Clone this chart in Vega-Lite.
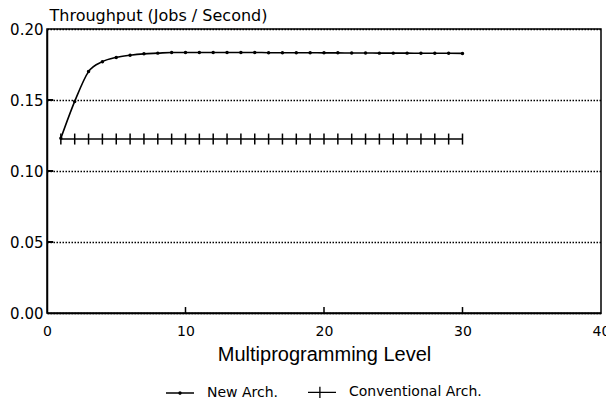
{
  "$schema": "https://vega.github.io/schema/vega-lite/v6.json",
  "width": 554,
  "height": 284,
  "autosize": "none",
  "padding": {"left": 47, "top": 29, "right": 5, "bottom": 91},
  "background": "white",
  "config": {
    "view": {"stroke": "black", "strokeWidth": 1.5},
    "font": "DejaVu Sans"
  },
  "datasets": {
    "throughput": [
      {"level": 1, "tp": 0.123, "series": "New Arch."},
      {"level": 2, "tp": 0.149, "series": "New Arch."},
      {"level": 3, "tp": 0.170, "series": "New Arch."},
      {"level": 4, "tp": 0.177, "series": "New Arch."},
      {"level": 5, "tp": 0.1800, "series": "New Arch."},
      {"level": 6, "tp": 0.1815, "series": "New Arch."},
      {"level": 7, "tp": 0.1825, "series": "New Arch."},
      {"level": 8, "tp": 0.1830, "series": "New Arch."},
      {"level": 9, "tp": 0.1835, "series": "New Arch."},
      {"level": 10, "tp": 0.1835, "series": "New Arch."},
      {"level": 11, "tp": 0.1835, "series": "New Arch."},
      {"level": 12, "tp": 0.1835, "series": "New Arch."},
      {"level": 13, "tp": 0.1835, "series": "New Arch."},
      {"level": 14, "tp": 0.1835, "series": "New Arch."},
      {"level": 15, "tp": 0.1835, "series": "New Arch."},
      {"level": 16, "tp": 0.1833, "series": "New Arch."},
      {"level": 17, "tp": 0.1833, "series": "New Arch."},
      {"level": 18, "tp": 0.1833, "series": "New Arch."},
      {"level": 19, "tp": 0.1833, "series": "New Arch."},
      {"level": 20, "tp": 0.1832, "series": "New Arch."},
      {"level": 21, "tp": 0.1832, "series": "New Arch."},
      {"level": 22, "tp": 0.1831, "series": "New Arch."},
      {"level": 23, "tp": 0.1831, "series": "New Arch."},
      {"level": 24, "tp": 0.1830, "series": "New Arch."},
      {"level": 25, "tp": 0.1830, "series": "New Arch."},
      {"level": 26, "tp": 0.1830, "series": "New Arch."},
      {"level": 27, "tp": 0.1829, "series": "New Arch."},
      {"level": 28, "tp": 0.1829, "series": "New Arch."},
      {"level": 29, "tp": 0.1829, "series": "New Arch."},
      {"level": 30, "tp": 0.1828, "series": "New Arch."},
      {"level": 1, "tp": 0.1225, "series": "Conventional Arch."},
      {"level": 2, "tp": 0.1225, "series": "Conventional Arch."},
      {"level": 3, "tp": 0.1225, "series": "Conventional Arch."},
      {"level": 4, "tp": 0.1225, "series": "Conventional Arch."},
      {"level": 5, "tp": 0.1225, "series": "Conventional Arch."},
      {"level": 6, "tp": 0.1225, "series": "Conventional Arch."},
      {"level": 7, "tp": 0.1225, "series": "Conventional Arch."},
      {"level": 8, "tp": 0.1225, "series": "Conventional Arch."},
      {"level": 9, "tp": 0.1225, "series": "Conventional Arch."},
      {"level": 10, "tp": 0.1225, "series": "Conventional Arch."},
      {"level": 11, "tp": 0.1225, "series": "Conventional Arch."},
      {"level": 12, "tp": 0.1225, "series": "Conventional Arch."},
      {"level": 13, "tp": 0.1225, "series": "Conventional Arch."},
      {"level": 14, "tp": 0.1225, "series": "Conventional Arch."},
      {"level": 15, "tp": 0.1225, "series": "Conventional Arch."},
      {"level": 16, "tp": 0.1225, "series": "Conventional Arch."},
      {"level": 17, "tp": 0.1225, "series": "Conventional Arch."},
      {"level": 18, "tp": 0.1225, "series": "Conventional Arch."},
      {"level": 19, "tp": 0.1225, "series": "Conventional Arch."},
      {"level": 20, "tp": 0.1225, "series": "Conventional Arch."},
      {"level": 21, "tp": 0.1225, "series": "Conventional Arch."},
      {"level": 22, "tp": 0.1225, "series": "Conventional Arch."},
      {"level": 23, "tp": 0.1225, "series": "Conventional Arch."},
      {"level": 24, "tp": 0.1225, "series": "Conventional Arch."},
      {"level": 25, "tp": 0.1225, "series": "Conventional Arch."},
      {"level": 26, "tp": 0.1225, "series": "Conventional Arch."},
      {"level": 27, "tp": 0.1225, "series": "Conventional Arch."},
      {"level": 28, "tp": 0.1225, "series": "Conventional Arch."},
      {"level": 29, "tp": 0.1225, "series": "Conventional Arch."},
      {"level": 30, "tp": 0.1225, "series": "Conventional Arch."}
    ],
    "xticks": [{"level": 10}, {"level": 20}, {"level": 30}],
    "yticks": [{"tp": 0.05}, {"tp": 0.1}, {"tp": 0.15}]
  },
  "data": {"name": "throughput"},
  "layer": [
    {
      "encoding": {
        "x": {
          "field": "level", "type": "quantitative",
          "scale": {"domain": [0, 40], "nice": false},
          "axis": {
            "orient": "bottom",
            "values": [0, 10, 20, 30, 40],
            "title": "Multiprogramming Level",
            "titleFont": "Liberation Sans", "titleFontSize": 20, "titleFontWeight": "normal",
            "titleColor": "black", "titlePadding": 6,
            "labelFont": "DejaVu Sans", "labelFontSize": 14, "labelColor": "black",
            "labelFlush": false, "labelPadding": 11,
            "ticks": false, "tickSize": 0,
            "domainColor": "black", "domainWidth": 1.5,
            "grid": false
          }
        },
        "y": {
          "field": "tp", "type": "quantitative",
          "scale": {"domain": [0, 0.2], "nice": false},
          "axis": {
            "orient": "left",
            "values": [0, 0.05, 0.1, 0.15, 0.2],
            "format": ".2f",
            "title": "Throughput (Jobs / Second)",
            "titleAngle": 0, "titleAlign": "left", "titleBaseline": "alphabetic",
            "titleX": 2, "titleY": -9,
            "titleFont": "DejaVu Sans", "titleFontSize": 16, "titleFontWeight": "normal", "titleColor": "black",
            "labelFont": "DejaVu Sans", "labelFontSize": 15, "labelColor": "black",
            "labelPadding": 4,
            "ticks": false, "tickSize": 0,
            "domainColor": "black", "domainWidth": 1.5,
            "grid": true, "gridColor": "black", "gridDash": [1.5, 1.5], "gridWidth": 1.3
          }
        }
      },
      "layer": [
        {
          "mark": {"type": "line", "color": "black", "strokeWidth": 1.6, "interpolate": "monotone"},
          "encoding": {"detail": {"field": "series"}}
        },
        {
          "transform": [{"filter": "datum.series === 'New Arch.'"}],
          "mark": {"type": "point", "filled": true, "color": "black", "size": 12, "opacity": 1}
        },
        {
          "transform": [{"filter": "datum.series === 'Conventional Arch.'"}],
          "mark": {"type": "tick", "orient": "vertical", "color": "black", "size": 11, "thickness": 1.5, "opacity": 1}
        },
        {
          "mark": {"type": "point", "opacity": 0, "color": "black", "filled": false},
          "encoding": {
            "shape": {
              "field": "series", "type": "nominal",
              "scale": {
                "domain": ["New Arch.", "Conventional Arch."],
                "range": ["M-1,0H1M0.08,0A0.08,0.08,0,1,1,-0.08,0A0.08,0.08,0,1,1,0.08,0Z", "M-1,0H1M-0.15,-0.4V0.4"]
              },
              "legend": {
                "title": null,
                "orient": "none",
                "direction": "horizontal",
                "legendX": 118,
                "legendY": 348,
                "padding": 0,
                "symbolSize": 784,
                "symbolOpacity": 1,
                "symbolStrokeColor": "black",
                "symbolFillColor": "black",
                "symbolStrokeWidth": 1.3,
                "labelFont": "DejaVu Sans",
                "labelFontSize": 14,
                "labelColor": "black",
                "labelOffset": 12,
                "columnPadding": 26
              }
            }
          }
        }
      ]
    },
    {
      "data": {"name": "xticks"},
      "mark": {"type": "rule", "color": "black", "strokeWidth": 1.5},
      "encoding": {
        "x": {"field": "level", "type": "quantitative"},
        "y": {"datum": 0},
        "y2": {"datum": 0.0042}
      }
    },
    {
      "data": {"name": "yticks"},
      "mark": {"type": "rule", "color": "black", "strokeWidth": 2},
      "encoding": {
        "y": {"field": "tp", "type": "quantitative"},
        "x": {"datum": 0},
        "x2": {"datum": 0.45}
      }
    }
  ]
}
